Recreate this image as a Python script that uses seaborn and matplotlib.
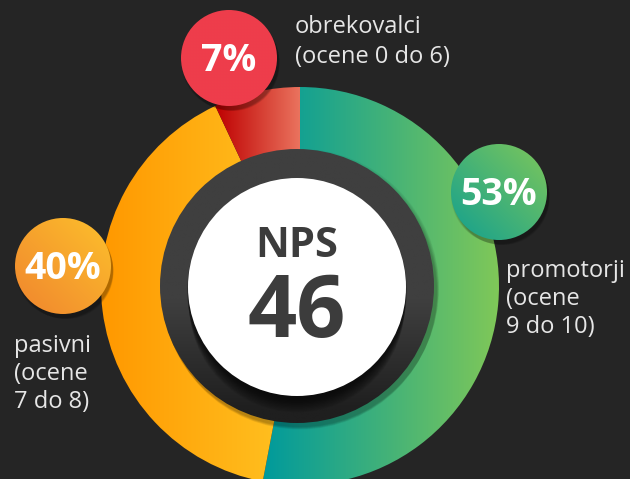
import numpy as np
import matplotlib.pyplot as plt
import seaborn as sns
from matplotlib.patches import Wedge, Circle

# data
categories = ['promotorji', 'pasivni', 'obrekovalci']
shares = [53, 40, 7]
nps_value = 46
labels = [['promotorji', '(ocene', '9 do 10)'],
          ['pasivni', '(ocene', '7 do 8)'],
          ['obrekovalci', '(ocene 0 do 6)']]
ring_colors = [('#009A9C', '#80C858'), ('#FF9800', '#FFC423'), ('#BE0000', '#EA735E')]
badge_colors = [('#13A08F', '#7EC75A'), ('#F0852E', '#FDC02C'), ('#EE3D4B', '#EE3D4B')]

sns.set_style('dark')
plt.rcParams['font.family'] = ['Open Sans', 'DejaVu Sans']

bg = '#252525'
W, H = 630, 479
fig = plt.figure(figsize=(6.3, 4.79), dpi=100, facecolor=bg)
ax = fig.add_axes([0, 0, 1, 1])
ax.set_facecolor(bg)
ax.set_xlim(0, W)
ax.set_ylim(H, 0)
ax.set_aspect('equal')
ax.axis('off')

cx, cy = 300, 286
r_out, r_in = 199, 110


def grad_fill(patch, cmap, x0, x1, y0, y1, mode='h', z=2):
    n = 256
    u = np.linspace(0, 1, n)
    if mode == 'd':
        t = (u[None, :] + (1 - u[:, None])) / 2
    elif mode == 'v':
        t = np.clip((u[:, None] - 0.55) / 0.4, 0, 1) * np.ones((1, n))
    else:
        t = u[None, :]
    img = cmap(t)
    ax.add_patch(patch)
    patch.set_facecolor('none')
    patch.set_edgecolor('none')
    im = ax.imshow(img, extent=(x0, x1, y1, y0), zorder=z, interpolation='bilinear', aspect='auto')
    im.set_clip_path(patch)


# ring segments: clockwise from top (y axis is flipped, so angles are negated)
start = 90.0
for val, (c0, c1) in zip(shares, ring_colors):
    span = 360.0 * val / sum(shares)
    t1, t2 = start - span, start
    w = Wedge((cx, cy), r_out, -t2, -t1, width=r_out - r_in)
    angs = np.radians(np.linspace(t1, t2, 200))
    xs = np.concatenate([cx + r_out * np.cos(angs), [cx]])
    cmap = sns.blend_palette([c0, c1], as_cmap=True)
    grad_fill(w, cmap, xs.min(), xs.max(), cy - r_out, cy + r_out)
    start = t1

# centre disc with soft shadow
for i in range(6):
    ax.add_patch(Circle((cx, cy + 2 + i * 0.9), 139 - i * 0.4,
                        facecolor='black', alpha=0.05, edgecolor='none', zorder=3))
rd = 137
dark = Circle((cx - 3, cy), rd)
grad_fill(dark, sns.blend_palette(['#3F3F3F', '#1F1F1F'], as_cmap=True),
          cx - 3 - rd, cx - 3 + rd, cy - rd, cy + rd, mode='v', z=4)
for i in range(12):
    ax.add_patch(Circle((cx - 3, cy + 3 + i * 1.4), 110 - i * 0.2,
                        facecolor='black', alpha=0.07, edgecolor='none', zorder=5))
ax.add_patch(Circle((cx - 3, cy + 1), 109, facecolor='white', edgecolor='none', zorder=6))

ax.text(cx - 3, 257, 'NPS', ha='center', va='baseline', fontsize=30,
        fontweight='bold', color='#3C3C3C', zorder=7)
ax.text(cx - 3, 337, str(nps_value), ha='center', va='baseline', fontsize=62,
        fontweight='bold', color='#3C3C3C', zorder=7)

# badges and labels
badge_pos = [(499, 192), (63, 266), (229, 58)]
label_pos = [(506, 277, 28), (14, 352, 28), (295, 33, 30)]
rb = 48
for val, lab, (bx, by), (lx, ly, step), (c0, c1) in zip(shares, labels, badge_pos, label_pos, badge_colors):
    for i in range(6):
        ax.add_patch(Circle((bx + 1 + i * 0.5, by + 3 + i * 0.6), rb + 1 - i * 0.4,
                            facecolor='black', alpha=0.06, edgecolor='none', zorder=8))
    c = Circle((bx, by), rb)
    cmap = sns.blend_palette([c0, c1], as_cmap=True)
    grad_fill(c, cmap, bx - rb, bx + rb, by - rb, by + rb, mode='d', z=9)
    ax.text(bx, by + 13, f'{val}%', ha='center', va='baseline', fontsize=27,
            fontweight='bold', color='white', zorder=10)
    for k, line in enumerate(lab):
        ax.text(lx, ly + k * step, line, ha='left', va='baseline', fontsize=17,
                color='#E6E6E6', zorder=10)

fig.savefig('out.png', dpi=100, facecolor=bg)
